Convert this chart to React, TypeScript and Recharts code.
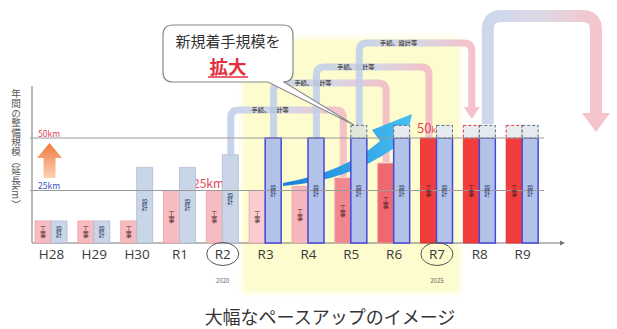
import { BarChart, Bar, XAxis, YAxis, Cell, LabelList, ReferenceLine, Customized } from 'recharts'

const CATEGORIES = ['H28', 'H29', 'H30', 'R1', 'R2', 'R3', 'R4', 'R5', 'R6', 'R7', 'R8', 'R9']
const KOUJI = [10.5, 10.5, 10.5, 25, 25, 25, 27, 31, 38, 50, 50, 50]
const SEKKEI = [10.5, 10.5, 36, 36, 42, 50, 50, 50, 50, 50, 50, 50]
const KOUJI_PLAN = [0, 0, 0, 0, 0, 0, 0, 0, 0, 0, 6, 6]
const SEKKEI_PLAN = [0, 0, 0, 0, 0, 0, 0, 6, 6, 6, 6, 6]
const YEAR_NOTES: Record<string, string> = { R2: '2020', R7: '2025' }

const KOUJI_FILL = ['#f6bcc1', '#f6bcc1', '#f6bcc1', '#f6bcc1', '#f6bcc1', '#f9ccd0', '#f6b6bb', '#f2888f', '#ee6870', '#f23d3d', '#f23d3d', '#f23d3d']
const OLD_SEKKEI = 5 // first year with the new design colours

const W = 617
const H = 329
const M = { top: 33, right: 73, bottom: 56, left: 30 }
const BAND = (W - M.left - M.right) / CATEGORIES.length
const BASE_Y = 243
const KM = 2.1
const cx = (i: number) => M.left + BAND * (i + 0.5)
const yOf = (v: number) => BASE_Y - KM * v

const data = CATEGORIES.map((name, i) => ({
  name,
  kouji: KOUJI[i],
  koujiPlan: KOUJI_PLAN[i],
  sekkei: SEKKEI[i],
  sekkeiPlan: SEKKEI_PLAN[i],
}))

// 設計 of year N -> 工事 of year N+3
const PIPES = [
  { from: 4, to: 7, level: 110 },
  { from: 5, to: 8, level: 83 },
  { from: 6, to: 9, level: 67 },
  { from: 7, to: 10, level: 43 },
]

const FONT = '"Noto Sans CJK JP", "Noto Sans", sans-serif'
const VERTICAL = { writingMode: 'vertical-rl', textOrientation: 'mixed' } as any

function BarText(props: any, label: string, color: string) {
  const { x, y, width, height } = props
  if (!height) return null
  return (
    <text x={x + width / 2} y={y + height / 2} textAnchor="middle" style={VERTICAL} fontSize={6} fill={color} fontFamily={FONT}>
      {label}
    </text>
  )
}

function Tick(props: any) {
  const { x, payload } = props
  const note = YEAR_NOTES[payload.value]
  return (
    <g>
      {note && <ellipse cx={x} cy={254} rx={16} ry={11.5} fill="none" stroke="#555" strokeWidth={1} />}
      <text x={x} y={259} textAnchor="middle" fontSize={13.5} fill="#3a3a3a" fontFamily="'Open Sans', sans-serif">{payload.value}</text>
      {note && <text x={x} y={283} textAnchor="middle" fontSize={6} fill="#666" fontFamily={FONT}>{note}</text>}
    </g>
  )
}

function pipePath(x1: number, y1: number, lvl: number, x2: number, y2: number, r = 8) {
  return `M${x1},${y1} V${lvl + r} Q${x1},${lvl} ${x1 + r},${lvl} H${x2 - r} Q${x2},${lvl} ${x2},${lvl + r} V${y2}`
}

function Decorations() {
  const bigX1 = cx(10) + 8
  const bigX2 = 596
  return (
    <g>
      <defs>
        {PIPES.map((p, k) => (
          <linearGradient key={k} id={`pipe${k}`} gradientUnits="userSpaceOnUse" x1={cx(p.from) + 8} x2={cx(p.to) - 8} y1={0} y2={0}>
            <stop offset="0" stopColor="#c3d0ea" />
            <stop offset="0.55" stopColor="#d4d2e6" />
            <stop offset="1" stopColor="#f4bcc6" />
          </linearGradient>
        ))}
        <linearGradient id="pipeBig" gradientUnits="userSpaceOnUse" x1={bigX1} x2={bigX2} y1={0} y2={0}>
          <stop offset="0" stopColor="#c7d3ea" />
          <stop offset="0.5" stopColor="#dcd4e4" />
          <stop offset="1" stopColor="#f3bfc8" />
        </linearGradient>
        <linearGradient id="swoosh" x1="0" x2="1" y1="0" y2="0">
          <stop offset="0" stopColor="#1a7fd8" />
          <stop offset="1" stopColor="#45c0f2" />
        </linearGradient>
        <linearGradient id="upArrow" x1="0" x2="0" y1="0" y2="1">
          <stop offset="0" stopColor="#f07a3c" />
          <stop offset="1" stopColor="#fbd2b4" />
        </linearGradient>
      </defs>

      {/* axes */}
      <line x1={32} y1={86} x2={32} y2={BASE_Y} stroke="#777" strokeWidth={1} />
      <line x1={32} y1={BASE_Y} x2={560} y2={BASE_Y} stroke="#777" strokeWidth={1} />
      <polygon points={`560,240.5 565,243 560,245.5`} fill="#777" />

      {/* y axis title, written top to bottom */}
      <text x={16} y={89} style={VERTICAL} fontSize={9.6} fill="#555" fontFamily={FONT}>年間の整備規模（延長km）</text>
      <text x={38} y={137} fontSize={8.5} fill="#e0475a" fontFamily={FONT}>50km</text>
      <text x={38} y={189} fontSize={8.5} fill="#3a52c4" fontFamily={FONT}>25km</text>
      <polygon points="49.5,143 62,158 55.5,158 55.5,178 43.5,178 43.5,158 37,158" fill="url(#upArrow)" />

      {/* pipes */}
      {PIPES.map((p, k) => {
        const x1 = cx(p.from) + 8
        const x2 = cx(p.to) - 8
        const y1 = yOf(SEKKEI[p.from] + SEKKEI_PLAN[p.from])
        const last = p.to === 10
        const y2 = last ? 107 : yOf(KOUJI[p.to] + KOUJI_PLAN[p.to]) - 1
        return (
          <g key={k} opacity={0.9}>
            <path d={pipePath(x1, y1, p.level, x2, y2)} fill="none" stroke={`url(#pipe${k})`} strokeWidth={7} />
            {last && <polygon points={`${x2 - 8},107 ${x2 + 8},107 ${x2},119`} fill="#f4bcc6" />}
            <text x={x1 + (x2 - x1) * 0.35} y={p.level + 2.2} textAnchor="middle" fontSize={6.2} fontWeight={700} fill="#444" fontFamily={FONT}>手続、設計等</text>
          </g>
        )
      })}
      <g opacity={0.9}>
        <path d={pipePath(bigX1, 124, 16, bigX2, 113, 14)} fill="none" stroke="url(#pipeBig)" strokeWidth={12} />
        <polygon points={`${bigX2 - 14},113 ${bigX2 + 14},113 ${bigX2},132`} fill="#f3bfc8" />
      </g>

      {/* value notes */}
      <text x={193} y={188} fontSize={12} fill="#e0475a" fontFamily={FONT}>25km</text>
      <text x={417} y={133} fontSize={13} fill="#e0475a" fontFamily={FONT}>50<tspan fontSize={8}>km</tspan></text>

      {/* swoosh arrow */}
      <path d="M283,183 Q345,172 380,141 L372,130 L412,114 L403,155 L394,148 Q348,181 283,186 Z" fill="url(#swoosh)" />

      {/* callout */}
      <path
        d="M173,25 H283 Q293,25 293,35 V72 Q293,82 283,82 H284 L354,125 L268,82 H173 Q163,82 163,72 V35 Q163,25 173,25 Z"
        fill="#fff"
        stroke="#8a8a8a"
        strokeWidth={1.2}
      />
      <text x={228} y={46.5} textAnchor="middle" fontSize={15} fill="#333" fontFamily={FONT}>新規着手規模を</text>
      <text x={228} y={73.5} textAnchor="middle" fontSize={18.5} fontWeight={700} fill="#e2303c" fontFamily={FONT}>拡大</text>
      <line x1={208} y1={77} x2={248} y2={77} stroke="#e2303c" strokeWidth={1.5} />

      {/* caption */}
      <text x={330} y={324} textAnchor="middle" fontSize={18} fill="#333" fontFamily={FONT}>大幅なペースアップのイメージ</text>
    </g>
  )
}

export default function App() {
  return (
    <div style={{ position: 'absolute', left: 0, top: 0, width: W, height: H, background: '#fff' }}>
      <div
        style={{
          position: 'absolute',
          left: 245,
          top: 41,
          width: 212,
          height: 249,
          background: '#fdfccf',
          boxShadow: '0 0 6px 3px #fdfccf',
        }}
      />
      <BarChart
        width={W}
        height={H}
        data={data}
        margin={M}
        barGap={0}
        barSize={16}
        style={{ position: 'absolute', left: 0, top: 0 }}
      >
        <XAxis dataKey="name" axisLine={false} tickLine={false} height={30} interval={0} tick={<Tick />} />
        <YAxis hide domain={[0, 100]} />
        <Bar dataKey="kouji" stackId="k" isAnimationActive={false}>
          {data.map((d, i) => (
            <Cell key={i} fill={KOUJI_FILL[i]} stroke={i >= 9 ? '#e02828' : '#eda3aa'} strokeWidth={0.8} />
          ))}
          <LabelList dataKey="kouji" content={(p: any) => BarText(p, '工事', '#4a1c1c')} />
        </Bar>
        <Bar dataKey="koujiPlan" stackId="k" isAnimationActive={false}>
          {data.map((d, i) => (
            <Cell key={i} fill="#e8ecee" stroke="#e0383e" strokeWidth={1} strokeDasharray="3 2" />
          ))}
        </Bar>
        <Bar dataKey="sekkei" stackId="s" isAnimationActive={false}>
          {data.map((d, i) => (
            <Cell
              key={i}
              fill={i >= OLD_SEKKEI ? '#b3c2e8' : '#c9d6e8'}
              stroke={i >= OLD_SEKKEI ? '#4848d6' : '#aebbd0'}
              strokeWidth={i >= OLD_SEKKEI ? 1.5 : 0.8}
            />
          ))}
          <LabelList dataKey="sekkei" content={(p: any) => BarText(p, '設計', '#24305e')} />
        </Bar>
        <Bar dataKey="sekkeiPlan" stackId="s" isAnimationActive={false}>
          {data.map((d, i) => (
            <Cell key={i} fill={i === 7 ? '#dfe8d9' : '#e4eaef'} stroke="#5a6a8a" strokeWidth={1} strokeDasharray="3 2" />
          ))}
        </Bar>
        <ReferenceLine y={50} stroke="#9a9a9a" strokeWidth={1} />
        <ReferenceLine y={25} stroke="#9a9a9a" strokeWidth={1} />
        <Customized component={<Decorations />} />
      </BarChart>
    </div>
  )
}
